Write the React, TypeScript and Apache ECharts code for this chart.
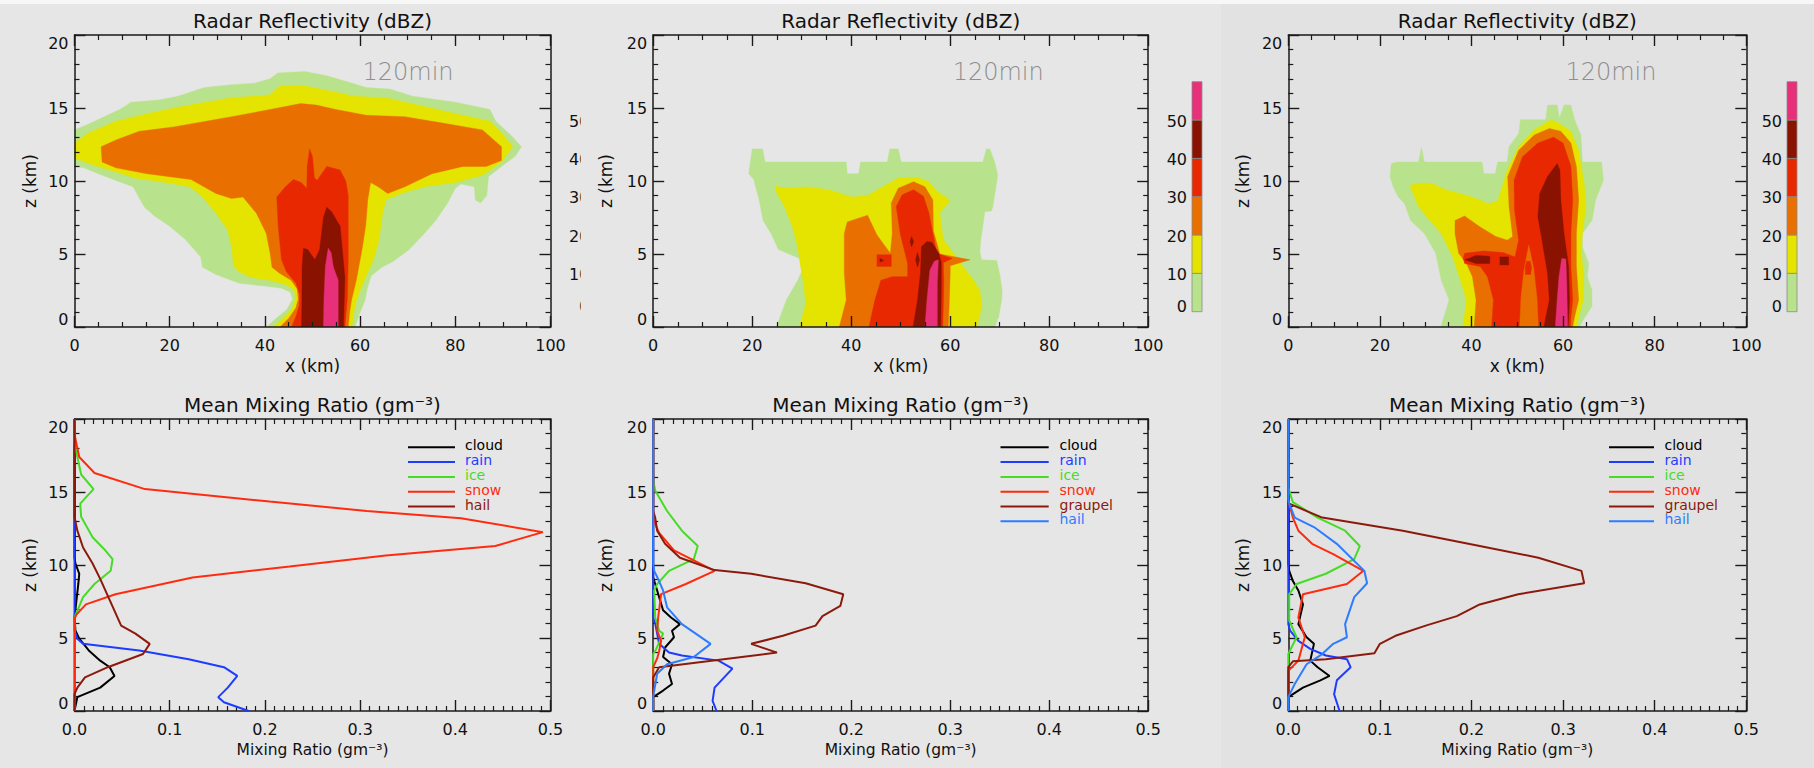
import React, { useEffect, useRef } from "react";
import * as echarts from "echarts";

const FONT = '"DejaVu Sans", "Liberation Sans", sans-serif';
const AXIS_COLOR = "#1a1a1a";
const BG = "#e6e6e6";
const BG3 = "#e2e2e2";

// ---------------- Reflectivity (dBZ) contour levels ----------------
const dbzLevels = [0, 10, 20, 30, 40, 50];
const dbzColors = ["#b8e38c", "#e5e300", "#e86f00", "#e82800", "#8a1200", "#e8307a"];

// Panel 1 contours, points are [x (km), z (km)]
const p1Green = [[40.4,0],[42.0,0.5],[44.6,1.2],[45.8,1.9],[45.3,2.4],[43.5,2.65],[40.0,2.8],[34.6,3.0],[29.7,3.6],[26.9,4.1],[26.5,4.8],[23.3,6.0],[20.0,6.9],[16.8,7.6],[14.7,8.2],[13.5,8.9],[12.3,9.6],[9.0,10.0],[5.0,10.5],[2.0,10.9],[0,11.0],[0,13.5],[3.0,13.9],[6.2,14.4],[9.5,14.9],[11.9,15.4],[17.7,15.55],[21.7,15.8],[27.3,16.4],[33.0,16.6],[37.8,16.7],[41.1,17.0],[42.7,17.4],[48.4,17.5],[53.2,17.2],[57.3,16.8],[61.3,16.4],[66.2,16.3],[71.1,15.8],[80.0,15.4],[87.3,14.9],[88.5,14.1],[92.1,13.0],[93.9,12.35],[92.6,11.7],[89.7,11.0],[87.0,10.3],[86.6,9.0],[85.3,8.5],[84.2,8.7],[84.0,9.6],[81.2,9.8],[80.0,9.5],[78.4,8.5],[75.9,7.3],[73.5,6.4],[70.3,5.3],[67.0,4.5],[64.6,4.1],[62.3,3.5],[61.5,2.6],[61.0,1.8],[60.0,1.0],[58.9,0]];
const p1Yellow = [[41.7,0],[43.5,0.5],[45.6,1.2],[46.4,1.9],[46.2,2.5],[44.5,2.9],[41.0,3.2],[37.0,3.4],[34.5,3.8],[33.4,4.2],[33.0,5.5],[32.2,6.65],[29.7,7.8],[26.9,8.9],[24.3,9.6],[19.2,9.9],[12.7,10.2],[7.9,10.7],[3.0,11.2],[0,11.6],[0,12.6],[3.0,13.3],[8.7,14.1],[15.2,14.6],[22.4,15.1],[33.0,15.7],[41.1,15.9],[43.1,16.5],[48.4,16.5],[53.2,16.2],[58.9,15.8],[65.4,15.7],[73.5,15.1],[81.6,14.5],[87.3,14.1],[89.7,13.3],[92.1,12.35],[89.7,11.3],[85.7,10.4],[80.0,9.9],[73.5,9.6],[68.6,9.15],[65.4,8.7],[64.6,7.55],[64.0,6.0],[62.8,4.6],[61.4,3.6],[60.0,2.5],[59.0,1.6],[58.6,0.8],[58.3,0]];
const p1Orange = [[43.2,0],[45.0,0.6],[46.5,1.3],[47.0,1.9],[46.8,2.6],[45.5,3.2],[43.0,3.7],[41.5,4.1],[41.1,5.05],[40.3,6.4],[38.2,7.8],[35.4,8.9],[33.0,8.8],[29.7,9.15],[24.5,10.1],[15.2,10.5],[8.7,10.9],[5.8,11.3],[5.6,12.35],[8.7,12.8],[13.6,13.4],[20.8,13.7],[33.0,14.4],[41.1,14.9],[47.5,15.3],[50.8,15.2],[54.9,14.9],[61.3,14.5],[69.4,14.4],[77.6,13.95],[85.7,13.5],[89.7,12.35],[89.7,11.4],[86.5,11.0],[81.6,11.0],[75.1,10.5],[69.4,9.6],[65.8,9.15],[63.8,9.6],[62.2,9.9],[61.6,8.7],[61.2,7.0],[60.5,5.5],[60.0,4.6],[59.2,3.2],[58.2,1.85],[57.8,1.0],[57.5,0]];
const p1Red = [[45.6,0],[46.6,0.8],[47.2,1.5],[47.3,2.2],[46.5,3.0],[44.5,3.8],[43.5,4.6],[42.8,6.9],[42.5,8.9],[44.3,9.6],[46.0,10.1],[47.6,9.9],[48.8,9.5],[48.9,11.0],[49.4,12.2],[50.0,11.65],[50.4,10.2],[51.0,10.05],[53.0,11.0],[55.8,10.75],[57.0,10.0],[57.5,9.0],[57.5,4.6],[57.3,1.85],[56.8,0]];
const p1DarkRed = [[47.7,0],[47.8,2.0],[47.8,4.0],[48.1,5.4],[49.0,5.3],[50.5,4.6],[51.5,5.3],[52.3,7.5],[53.0,8.2],[54.0,7.9],[55.8,6.9],[56.8,3.4],[56.5,0]];
const p1Pink = [[52.3,0],[52.4,1.85],[52.7,4.15],[53.3,5.4],[53.9,5.1],[54.4,4.1],[55.4,3.2],[55.4,0]];

// Panel 2 contours
const p2Green = [[24.9,0],[26.9,1.85],[29.2,3.2],[30.0,3.8],[29.6,4.7],[25.3,5.3],[23.8,6.4],[22.2,7.3],[21.4,8.7],[20.3,10.1],[19.3,10.5],[20.0,12.2],[22.1,12.2],[22.6,11.3],[39.0,11.3],[39.2,10.5],[41.5,10.5],[41.9,11.3],[47.3,11.3],[47.8,12.2],[49.5,12.2],[50.1,11.3],[66.6,11.3],[67.3,12.2],[68.0,12.2],[69.0,11.3],[69.6,10.4],[69.2,9.5],[68.6,8.2],[68.3,7.95],[67.0,7.9],[66.2,6.0],[66.0,5.2],[66.3,4.6],[69.4,4.55],[70.1,3.45],[70.5,2.5],[70.4,1.85],[69.8,0.7],[69.0,0]];
const p2Yellow = [[29.6,0],[30.8,1.6],[30.4,3.0],[29.8,4.1],[29.2,5.5],[28.1,6.9],[26.5,8.25],[24.9,9.25],[24.6,9.65],[26.9,9.5],[30.8,9.6],[35.5,9.4],[40.1,8.9],[43.3,9.0],[46.4,9.6],[49.5,10.2],[53.4,10.25],[55.7,9.95],[57.3,9.3],[60.0,8.7],[57.9,7.8],[58.6,6.0],[61.0,4.9],[62.7,4.1],[64.5,3.3],[66.0,2.5],[66.4,1.4],[65.4,0]];
const p2Orange = [[37.6,0],[39.0,1.85],[38.6,3.7],[38.6,6.4],[39.2,7.2],[43.3,7.65],[45.2,6.3],[47.9,5.05],[48.3,6.4],[48.1,8.5],[49.5,9.5],[52.6,9.95],[54.9,9.6],[56.5,8.7],[56.6,6.6],[57.9,5.0],[64.0,4.6],[60.0,4.2],[60.0,3.7],[59.8,1.6],[59.6,0]];
const p2Red = [[43.6,0],[44.8,1.85],[46.0,3.2],[48.3,3.45],[51.4,3.45],[51.4,4.35],[49.9,6.4],[49.1,8.25],[50.3,9.05],[52.6,9.4],[54.6,8.95],[55.7,7.8],[56.5,6.4],[57.3,5.05],[60.4,4.7],[58.6,4.4],[58.7,3.0],[58.6,1.4],[58.5,0]];
const p2RedBlob = [[45.2,4.15],[48.1,4.15],[48.1,4.95],[45.2,4.95]];
const p2DarkDot = [[45.8,4.45],[46.6,4.55],[45.8,4.7]];
const p2DarkRed = [[52.5,0],[53.4,1.85],[54.0,3.7],[54.2,5.5],[55.3,5.85],[56.3,5.8],[57.7,5.05],[58.2,4.4],[58.2,3.0],[58.1,0]];
const p2DarkSliverA = [[51.9,5.85],[52.2,6.2],[52.6,5.85],[52.2,5.5]];
const p2DarkSliverB = [[53.0,4.6],[53.4,5.1],[53.8,4.6],[53.4,4.1]];
const p2Pink = [[54.9,0],[55.3,1.85],[55.9,3.9],[56.8,4.5],[57.6,4.6],[57.4,3.0],[57.4,0]];

// Panel 3 contours
const p3Green = [[33.3,0],[35.1,1.85],[33.4,3.2],[32.2,5.05],[29.7,6.4],[26.7,7.3],[25.4,8.45],[24.0,8.9],[22.9,9.6],[22.2,10.3],[22.5,11.2],[23.8,11.3],[28.4,11.3],[29.1,12.3],[29.7,11.3],[42.3,11.3],[42.7,10.5],[45.2,10.5],[45.7,11.3],[47.8,11.3],[48.2,12.35],[50.3,13.25],[50.7,14.2],[56.2,14.2],[56.6,15.2],[58.7,15.2],[59.2,14.3],[60.2,15.2],[61.7,15.2],[62.5,14.2],[63.9,13.15],[64.2,11.3],[68.4,11.3],[68.8,10.05],[67.1,8.7],[66.3,7.3],[64.2,6.4],[64.2,5.5],[65.6,4.35],[65.3,3.45],[66.3,2.55],[66.3,1.4],[64.4,0.5],[63.6,0]];
const p3Yellow = [[38.1,0],[38.9,1.85],[37.6,3.2],[35.9,4.8],[33.4,6.4],[30.9,7.3],[28.4,8.25],[27.1,9.25],[26.5,9.7],[28.4,9.85],[31.3,9.85],[34.3,9.4],[38.5,9.05],[41.9,8.7],[43.5,8.45],[45.7,8.6],[47.8,10.75],[50.3,12.35],[53.7,13.5],[57.4,14.2],[59.1,13.95],[61.7,13.4],[63.4,12.1],[64.6,9.85],[65.0,8.25],[64.2,6.4],[64.0,5.05],[64.4,3.7],[64.4,1.85],[63.4,0.7],[63.0,0]];
const p3Orange = [[40.6,0],[41.0,1.85],[40.2,3.45],[38.9,4.35],[37.2,5.05],[36.4,6.4],[36.4,7.3],[38.5,7.6],[41.9,6.85],[45.3,6.2],[47.8,5.95],[49.0,6.2],[48.2,8.25],[47.9,10.3],[50.3,12.1],[53.7,13.15],[57.0,13.6],[59.5,13.4],[61.7,12.6],[62.9,11.0],[63.4,8.7],[62.9,6.4],[62.9,4.15],[63.4,1.85],[62.5,0.7],[62.1,0]];
const p3Red = [[44.4,0],[44.8,1.85],[43.5,3.45],[41.9,4.15],[38.5,4.35],[38.2,4.7],[38.5,5.05],[42.6,5.2],[46.9,5.1],[49.5,4.8],[50.3,5.95],[49.4,8.0],[49.3,10.05],[51.1,11.65],[54.5,12.6],[57.9,13.0],[60.0,12.6],[61.7,11.0],[62.1,8.7],[61.7,6.4],[61.7,4.15],[62.1,1.85],[61.7,0.7],[61.6,0]];
const p3OrangeStripe = [[50.5,0],[50.8,2.0],[51.5,4.0],[52.5,5.6],[53.6,4.0],[54.3,2.0],[54.6,0]];
const p3RedSpot = [[51.8,3.6],[52.9,3.6],[53.1,4.1],[52.8,4.5],[52.0,4.5],[51.7,4.1]];
const p3DarkArrow = [[38.6,4.6],[41.0,4.9],[44.0,4.85],[44.0,4.35],[41.0,4.35]];
const p3DarkRect = [[46.2,4.25],[48.1,4.25],[48.1,4.8],[46.2,4.8]];
const p3DarkRed = [[55.8,0],[57.0,1.85],[56.6,3.7],[55.4,5.95],[54.5,7.55],[54.9,9.15],[56.6,10.3],[58.7,11.2],[59.3,10.75],[59.5,8.7],[60.2,6.4],[61.2,4.15],[61.4,1.85],[61.1,0]];
const p3Pink = [[58.3,0],[58.7,1.85],[59.1,3.45],[59.7,4.7],[60.6,4.65],[60.8,3.0],[61.0,0]];

// [level index, polygon] in drawing order
const panel1Contours = [[0, p1Green], [1, p1Yellow], [2, p1Orange], [3, p1Red], [4, p1DarkRed], [5, p1Pink]];
const panel2Contours = [[0, p2Green], [1, p2Yellow], [2, p2Orange], [3, p2Red], [3, p2RedBlob], [4, p2DarkDot], [4, p2DarkRed], [4, p2DarkSliverA], [4, p2DarkSliverB], [5, p2Pink]];
const panel3Contours = [[0, p3Green], [1, p3Yellow], [2, p3Orange], [3, p3Red], [2, p3OrangeStripe], [3, p3RedSpot], [4, p3DarkArrow], [4, p3DarkRect], [4, p3DarkRed], [5, p3Pink]];

// ---------------- Mean mixing ratio profiles: [value (g m^-3), z (km)] ----------------
const cloud4 = [[0,0],[0.003,0.95],[0.027,1.6],[0.042,2.4],[0.037,3.0],[0.027,3.45],[0.015,4.15],[0.005,4.95],[0.001,5.5],[0,6.4],[0.002,7.55],[0.004,8.7],[0.005,9.4],[0.001,10.1],[0,10.5],[0,20]];
const rain4 = [[0.183,0],[0.157,0.6],[0.151,0.95],[0.161,1.6],[0.171,2.4],[0.157,3.0],[0.120,3.55],[0.068,4.15],[0.009,4.6],[0.003,4.95],[0,5.5],[0,20]];
const ice4 = [[0,0],[0,6.4],[0.009,7.8],[0.021,8.7],[0.038,9.6],[0.040,10.4],[0.031,11.1],[0.019,11.9],[0.007,13.3],[0.006,14.2],[0.020,15.2],[0.007,16.2],[0.003,17.4],[0,18.3],[0,20]];
const snow4 = [[0,0],[0,6.3],[0.002,6.6],[0.012,7.3],[0.043,8.0],[0.124,9.15],[0.226,9.9],[0.327,10.65],[0.442,11.3],[0.492,12.25],[0.406,13.2],[0.307,13.7],[0.205,14.35],[0.074,15.2],[0.021,16.3],[0.005,17.4],[0.002,18.3],[0,19],[0,20]];
const hail4 = [[0,0],[0,1.15],[0.003,1.6],[0.011,2.3],[0.035,3.0],[0.072,3.9],[0.079,4.6],[0.064,5.3],[0.049,5.85],[0.039,7.3],[0.027,9.05],[0.019,10.1],[0.009,11.2],[0.003,12.35],[0,13.3],[0,20]];

const cloud5 = [[0,0],[0,0.95],[0.010,1.4],[0.019,1.85],[0.016,2.55],[0.019,3.2],[0.010,3.7],[0.012,4.35],[0.021,5.05],[0.019,5.5],[0.027,5.95],[0.018,6.4],[0.010,6.9],[0.006,7.8],[0.002,8.7],[0,9.15],[0,20]];
const rain5 = [[0.064,0],[0.060,0.7],[0.062,1.6],[0.080,2.9],[0.066,3.45],[0.029,3.8],[0.016,4.0],[0.006,4.6],[0.002,6.0],[0,6.4],[0,20]];
const ice5 = [[0,0],[0,3.9],[0.002,4.1],[0.010,5.3],[0.006,5.5],[0.002,6.4],[0.001,8.25],[0.004,8.7],[0.016,9.6],[0.041,10.4],[0.045,11.3],[0.029,12.35],[0.014,13.7],[0.002,15.1],[0,15.8],[0,20]];
const snow5 = [[0,0],[0,3.0],[0.004,3.6],[0.006,4.1],[0.008,4.8],[0.004,5.5],[0.005,6.4],[0.008,8.0],[0.033,8.7],[0.062,9.6],[0.049,10.05],[0.021,11.0],[0.006,12.2],[0.002,12.8],[0,13.3],[0,20]];
const graupel5 = [[0,0],[0,2.3],[0.006,3.0],[0.125,4.0],[0.099,4.6],[0.131,5.15],[0.164,5.85],[0.171,6.5],[0.189,7.2],[0.192,8.0],[0.154,8.75],[0.099,9.4],[0.062,9.65],[0.027,10.5],[0.012,11.45],[0.004,12.35],[0.002,13.25],[0,13.7],[0,20]];
const hail5 = [[0,0],[0,1.0],[0.004,2.55],[0.014,3.2],[0.041,3.7],[0.058,4.6],[0.029,5.95],[0.014,7.1],[0.010,8.25],[0.006,8.9],[0.001,9.6],[0,10.1],[0,20]];

const cloud6 = [[0,0],[0,0.95],[0.016,1.6],[0.035,2.1],[0.045,2.4],[0.032,3.0],[0.024,3.45],[0.028,4.6],[0.020,5.05],[0.011,5.95],[0.016,7.3],[0.011,8.25],[0.005,8.9],[0.001,9.6],[0,10.1],[0,20]];
const rain6 = [[0.056,0],[0.050,1.15],[0.053,2.1],[0.068,3.0],[0.064,3.55],[0.041,3.8],[0.024,4.25],[0.011,4.8],[0.002,5.5],[0,5.95],[0,20]];
const ice6 = [[0,0],[0,3.9],[0.009,5.05],[0.001,6.2],[0.001,8.0],[0.009,8.7],[0.041,9.4],[0.072,10.4],[0.078,11.3],[0.062,12.35],[0.032,13.25],[0.005,14.3],[0,15.3],[0,20]];
const snow6 = [[0,0],[0,2.75],[0.011,3.45],[0.014,4.15],[0.018,5.05],[0.011,6.4],[0.016,8.0],[0.064,8.7],[0.082,9.6],[0.049,10.75],[0.026,11.45],[0.011,12.35],[0.005,13.25],[0.001,14.2],[0,14.5],[0,20]];
const graupel6 = [[0,0],[0,3.0],[0.005,3.4],[0.041,3.55],[0.094,3.95],[0.100,4.6],[0.117,5.15],[0.150,5.85],[0.184,6.5],[0.209,7.3],[0.251,8.0],[0.323,8.75],[0.320,9.6],[0.273,10.5],[0.209,11.3],[0.125,12.35],[0.037,13.25],[0.001,14.2],[0,14.5],[0,20]];
const hail6 = [[0,0],[0,0.95],[0.007,1.85],[0.020,3.2],[0.037,3.9],[0.049,4.6],[0.064,5.05],[0.062,5.95],[0.072,7.8],[0.086,8.75],[0.083,9.6],[0.053,11.45],[0.028,12.6],[0.007,13.25],[0.001,14.2],[0,14.5],[0,20]];

const speciesNames4 = ["cloud", "rain", "ice", "snow", "hail"];
const speciesColors4 = ["#000000", "#1d3cff", "#46dc26", "#ff2b0f", "#8c1a0c"];
const speciesNames56 = ["cloud", "rain", "ice", "snow", "graupel", "hail"];
const speciesColors56 = ["#000000", "#1d3cff", "#46dc26", "#ff2b0f", "#8c1a0c", "#2d7dff"];

const profiles4 = [cloud4, rain4, ice4, snow4, hail4];
const profiles5 = [cloud5, rain5, ice5, snow5, graupel5, hail5];
const profiles6 = [cloud6, rain6, ice6, snow6, graupel6, hail6];

// ---------------- Layout (pixels) ----------------
const gridLeft = [74.5, 653.2, 1288.3];
const gridWidth = [476, 495, 458];
const rowTop = [35, 419];
const gridHeight = 292;

function buildOption() {
  const grids: any[] = [];
  const xAxes: any[] = [];
  const yAxes: any[] = [];
  const series: any[] = [];
  const graphics: any[] = [];

  for (let p = 0; p < 6; p++) {
    const col = p % 3;
    const row = Math.floor(p / 3);
    const refl = row === 0;
    grids.push({ left: gridLeft[col], top: rowTop[row], width: gridWidth[col], height: gridHeight, show: false });

    const xBase = {
      gridIndex: p,
      type: "value",
      min: 0,
      max: refl ? 100 : 0.5,
      interval: refl ? 20 : 0.1,
      axisLine: { show: true, onZero: false, lineStyle: { color: AXIS_COLOR, width: 1.5 } },
      axisTick: { show: true, inside: true, length: 11, lineStyle: { color: AXIS_COLOR, width: 1.4 } },
      minorTick: { show: true, splitNumber: refl ? 4 : 10, length: 5, lineStyle: { color: AXIS_COLOR, width: 1.2 } },
      splitLine: { show: false },
      minorSplitLine: { show: false },
      z: refl ? 10 : 0,
    };
    xAxes.push({
      ...xBase,
      position: "bottom",
      axisLabel: {
        show: true, margin: 10, fontSize: 16, fontFamily: FONT, color: "#111",
        formatter: refl ? (v: number) => String(Math.round(v)) : (v: number) => v.toFixed(1),
      },
    });
    xAxes.push({ ...xBase, position: "top", axisLabel: { show: false } });

    const yBase = {
      gridIndex: p,
      type: "value",
      min: 0,
      max: 20,
      interval: 5,
      axisLine: { show: true, onZero: false, lineStyle: { color: AXIS_COLOR, width: 1.5 } },
      axisTick: { show: true, inside: true, length: 11, lineStyle: { color: AXIS_COLOR, width: 1.4 } },
      minorTick: { show: true, splitNumber: 5, length: 5, lineStyle: { color: AXIS_COLOR, width: 1.2 } },
      splitLine: { show: false },
      minorSplitLine: { show: false },
      z: refl ? 10 : 0,
    };
    yAxes.push({
      ...yBase,
      position: "left",
      axisLabel: {
        show: true, margin: 6, fontSize: 16, fontFamily: FONT, color: "#111",
        verticalAlignMinLabel: "bottom", verticalAlignMaxLabel: "top",
      },
    });
    yAxes.push({ ...yBase, position: "right", axisLabel: { show: false } });

    const cx = gridLeft[col] + gridWidth[col] / 2;
    const top = rowTop[row];
    const bottom = top + gridHeight;

    // titles and axis names
    graphics.push(text(cx, top - 14.3, refl ? "Radar Reflectivity (dBZ)" : "Mean Mixing Ratio (gm⁻³)", 20, {}));
    graphics.push(text(cx, bottom + 38.7, refl ? "x (km)" : "Mixing Ratio (gm⁻³)", refl ? 17 : 15.5, {}));
    const zx = [30, 606, 1243][col];
    graphics.push(text(zx, top + gridHeight / 2, "z (km)", 17, { rot: Math.PI / 2, z: 120 }));

    if (refl) {
      graphics.push(text(gridLeft[col] + 0.605 * gridWidth[col], top + 36.7, "120min", 24, { align: "left", fill: "#8e8e8e", weight: 200 }));
    }
  }

  // contour series
  const contourSets = [panel1Contours, panel2Contours, panel3Contours];
  contourSets.forEach((polys: any[], p) => {
    series.push({
      type: "custom",
      coordinateSystem: "cartesian2d",
      xAxisIndex: p * 2,
      yAxisIndex: p * 2,
      clip: true,
      silent: true,
      z: 2,
      encode: { x: 0, y: 1 },
      data: polys.map((pl: any, i: number) => [pl[1][0][0], pl[1][0][1], i]),
      renderItem: (params: any, api: any) => {
        const pl = polys[params.dataIndex];
        const pts = pl[1].map((pt: number[]) => api.coord(pt));
        const c = dbzColors[pl[0]];
        return { type: "polygon", shape: { points: pts }, style: { fill: c, stroke: c, lineWidth: 0.4 } };
      },
    });
  });

  // profile line series
  const profileSets = [
    { data: profiles4, names: speciesNames4, colors: speciesColors4 },
    { data: profiles5, names: speciesNames56, colors: speciesColors56 },
    { data: profiles6, names: speciesNames56, colors: speciesColors56 },
  ];
  profileSets.forEach((set, col) => {
    const p = col + 3;
    set.data.forEach((d, k) => {
      series.push({
        type: "line",
        name: set.names[k] + "_" + p,
        xAxisIndex: p * 2,
        yAxisIndex: p * 2,
        data: d,
        showSymbol: false,
        symbol: "none",
        clip: false,
        silent: true,
        z: 3,
        lineStyle: { color: set.colors[k], width: 2 },
      });
    });
    // legend
    const lx0 = [408, 1000.5, 1609][col];
    const lx1 = [455, 1048.7, 1654][col];
    const tx = [465, 1059.5, 1664.5][col];
    set.names.forEach((n, k) => {
      const y = 447.3 + k * 14.8;
      graphics.push({ type: "line", z: 100, silent: true, shape: { x1: lx0, y1: y, x2: lx1, y2: y }, style: { stroke: set.colors[k], lineWidth: 2 } });
      graphics.push(text(tx, y - 2, n, 14, { align: "left", fill: set.colors[k] }));
    });
  });

  // colorbars (panel 1's is hidden behind panel 2, only label fragments show)
  const cbX = [594, 1192, 1787];
  const cbLabelRight = [589.3, 1187, 1782];
  const cbTop = 81.7;
  const cbSeg = 38.33;
  const cbBottom = cbTop + cbSeg * dbzLevels.length;
  for (let col = 0; col < 3; col++) {
    dbzLevels.forEach((lv, k) => {
      const y = k === 0 ? cbBottom - 4.7 : cbBottom - k * cbSeg + 1;
      graphics.push(text(cbLabelRight[col], y, String(lv), 16, { align: "right", z: 40 }));
      if (col > 0) {
        graphics.push({
          type: "rect", z: 40, silent: true,
          shape: { x: cbX[col], y: cbBottom - (k + 1) * cbSeg, width: 10, height: cbSeg },
          style: { fill: dbzColors[k], stroke: "#8a8a8a", lineWidth: 0.8 },
        });
      }
    });
  }
  // panel 2 overlaps panel 1's colour bar
  graphics.push({ type: "rect", z: 60, silent: true, shape: { x: 580.7, y: 70, width: 16.3, height: 280 }, style: { fill: BG } });

  return {
    animation: false,
    backgroundColor: "transparent",
    grid: grids,
    xAxis: xAxes,
    yAxis: yAxes,
    series,
    graphic: { elements: graphics },
  };
}

function text(x: number, y: number, s: string, size: number, o: any) {
  return {
    type: "text",
    x,
    y,
    z: o.z ?? 100,
    silent: true,
    rotation: o.rot ?? 0,
    style: {
      text: s,
      fontSize: size,
      fontFamily: FONT,
      fontWeight: o.weight ?? "normal",
      fill: o.fill ?? "#111",
      align: o.align ?? "center",
      verticalAlign: o.va ?? "middle",
    },
  };
}

export default function App() {
  const ref = useRef<HTMLDivElement | null>(null);
  useEffect(() => {
    if (!ref.current) return;
    const chart = echarts.init(ref.current, undefined, { renderer: "svg" });
    chart.setOption(buildOption() as any);
    return () => chart.dispose();
  }, []);
  return (
    <div style={{ position: "fixed", left: 0, top: 0, width: 1814, height: 768, background: BG, overflow: "hidden" }}>
      <div style={{ position: "absolute", left: 0, top: 0, width: 1814, height: 4, background: "#f7f7f7" }} />
      <div style={{ position: "absolute", left: 1221, top: 4, width: 593, height: 764, background: BG3 }} />
      <div ref={ref} style={{ position: "absolute", left: 0, top: 0, width: 1814, height: 768 }} />
    </div>
  );
}
